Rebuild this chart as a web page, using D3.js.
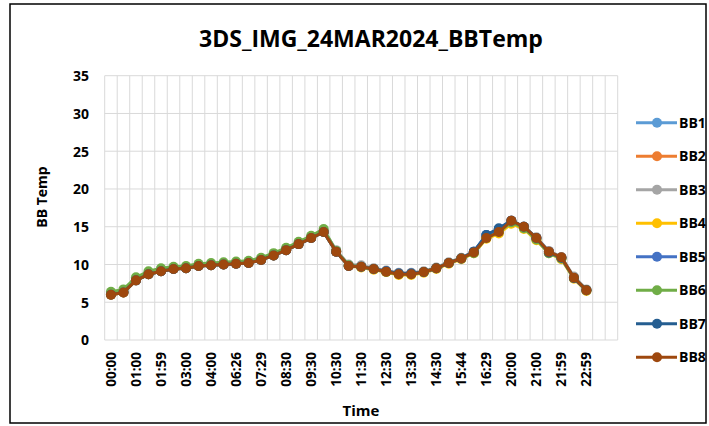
<!DOCTYPE html>
<html><head><meta charset="utf-8">
<script src="https://cdn.jsdelivr.net/npm/d3@7/dist/d3.min.js"></script>
<style>body{margin:0;background:#fff;}svg{display:block;}</style>
</head><body>
<svg id="c" width="709" height="426"></svg>
<script>
const title = "3DS_IMG_24MAR2024_BBTemp";
const categories = ["00:00","00:30","01:00","01:30","01:59","02:30","03:00","03:30","04:00","05:13",
"06:26","07:00","07:29","08:00","08:30","09:00","09:30","10:00","10:30","11:00",
"11:30","12:00","12:30","13:00","13:30","14:00","14:30","15:07","15:44","16:00",
"16:29","19:00","20:00","20:30","21:00","21:30","21:59","22:30","22:59","",""];
const shownLabels = ["00:00","01:00","01:59","03:00","04:00","06:26","07:29","08:30","09:30","10:30",
"11:30","12:30","13:30","14:30","15:44","16:29","20:00","21:00","21:59","22:59"];
const yTicks = [0,5,10,15,20,25,30,35];
const seriesNames = ["BB1","BB2","BB3","BB4","BB5","BB6","BB7","BB8"];
const seriesColors = ["#5B9BD5","#ED7D31","#A5A5A5","#FFC000","#4472C4","#70AD47","#255E91","#9E480E"];

const BB1 = [6.1,6.4,7.9,8.7,9.1,9.4,9.5,9.8,9.9,10.0,10.1,10.2,10.6,11.2,11.9,12.7,13.5,14.3,11.7,9.8,9.7,9.4,9.1,8.8,8.8,9.0,9.5,10.2,10.8,11.7,13.9,14.7,15.8,15.0,13.5,11.7,10.9,8.2,6.6];
const BB2 = [6.0,6.3,7.9,8.7,9.1,9.4,9.5,9.8,9.9,10.0,10.1,10.2,10.6,11.2,11.9,12.7,13.5,14.3,11.7,9.8,9.7,9.4,9.0,8.7,8.7,9.0,9.5,10.2,10.8,11.6,13.5,14.3,15.8,15.0,13.5,11.7,10.9,8.2,6.6];
const BB3 = [6.1,6.4,8.0,8.8,9.2,9.5,9.6,9.9,10.0,10.1,10.2,10.3,10.7,11.3,12.0,12.8,13.6,14.5,11.9,10.0,9.9,9.5,9.2,8.9,8.9,9.1,9.6,10.3,10.9,11.7,13.6,14.4,15.7,15.0,13.6,11.8,11.0,8.4,6.7];
const BB4 = [6.0,6.3,7.9,8.7,9.1,9.4,9.5,9.8,9.9,10.0,10.1,10.2,10.6,11.2,11.9,12.7,13.5,14.3,11.7,9.8,9.6,9.3,9.0,8.6,8.6,8.9,9.4,10.1,10.7,11.5,13.4,14.1,15.4,14.7,13.2,11.5,10.7,8.1,6.5];
const BB5 = [6.1,6.4,7.9,8.7,9.1,9.4,9.5,9.8,9.9,10.0,10.1,10.2,10.6,11.2,11.9,12.7,13.5,14.3,11.7,9.8,9.7,9.4,9.1,8.8,8.8,9.0,9.5,10.2,10.8,11.7,13.9,14.7,15.8,15.0,13.5,11.7,10.9,8.2,6.6];
const BB6 = [6.4,6.7,8.3,9.1,9.5,9.7,9.8,10.1,10.2,10.3,10.4,10.5,10.9,11.5,12.2,13.0,13.8,14.7,11.8,9.9,9.7,9.4,9.0,8.7,8.7,9.0,9.5,10.2,10.8,11.5,13.5,14.3,15.6,14.8,13.3,11.5,10.8,8.2,6.6];
const BB7 = [6.0,6.3,7.9,8.7,9.1,9.4,9.5,9.8,9.9,10.0,10.1,10.2,10.6,11.2,11.9,12.7,13.5,14.3,11.7,9.8,9.7,9.4,9.1,8.8,8.8,9.0,9.5,10.2,10.8,11.7,13.9,14.8,15.8,15.0,13.5,11.6,10.9,8.2,6.6];
const BB8 = [6.0,6.3,7.9,8.7,9.1,9.4,9.5,9.8,9.9,10.0,10.1,10.2,10.6,11.2,11.9,12.7,13.5,14.3,11.7,9.8,9.7,9.4,9.05,8.7,8.7,9.0,9.5,10.2,10.8,11.6,13.5,14.3,15.8,15.0,13.5,11.7,10.95,8.25,6.6];
const seriesValues = [BB1,BB2,BB3,BB4,BB5,BB6,BB7,BB8];

const svg = d3.select("#c");
const font = "'Open Sans', 'Liberation Sans', sans-serif";

svg.append("rect").attr("x",10).attr("y",4).attr("width",696).attr("height",419)
  .attr("fill","#fff").attr("stroke","#000").attr("stroke-width",1.5);

const L = 104.7, R = 617.7, T = 75.7, B = 340;
const x = d3.scaleBand().domain(d3.range(categories.length)).range([L,R]).paddingInner(0).paddingOuter(0);
const y = d3.scaleLinear().domain([0,35]).range([B,T]);

// gridlines
const g = svg.append("g");
g.selectAll(".hg").data(yTicks).enter().append("line")
  .attr("x1",L).attr("x2",R).attr("y1",d=>y(d)).attr("y2",d=>y(d))
  .attr("stroke","#D9D9D9").attr("stroke-width",1);
const vb = d3.range(categories.length+1);
g.selectAll(".vg").data(vb).enter().append("line")
  .attr("x1",d=>L+d*x.bandwidth()).attr("x2",d=>L+d*x.bandwidth())
  .attr("y1",T).attr("y2",B).attr("stroke","#D9D9D9").attr("stroke-width",1);

// y axis labels
const yAxis = d3.axisLeft(y).tickValues(yTicks).tickSize(0).tickPadding(0);
const ya = svg.append("g").attr("transform",`translate(89,0)`).call(yAxis);
ya.select(".domain").remove();
ya.selectAll("text").attr("font-family",font).attr("font-weight","bold").attr("font-size",14).attr("fill","#000").attr("dy","0.35em");

// x axis labels
const xAxis = d3.axisBottom(x).tickSize(0).tickFormat(i => (i%2===0 && shownLabels.includes(categories[i])) ? categories[i] : "");
const xa = svg.append("g").attr("transform",`translate(0,${B})`).call(xAxis);
xa.select(".domain").remove();
xa.selectAll("text").attr("font-family",font).attr("font-weight","bold").attr("font-size",13.5).attr("fill","#000")
  .attr("transform","rotate(-90)").attr("text-anchor","end").attr("x",-12).attr("y",0).attr("dy","0.35em");

// series
const line = d3.line().x((d,i)=>x(i)+x.bandwidth()/2).y(d=>y(d));
seriesValues.forEach((vals,si)=>{
  const sg = svg.append("g");
  sg.append("path").datum(vals).attr("d",line).attr("fill","none")
    .attr("stroke",seriesColors[si]).attr("stroke-width",3).attr("stroke-linejoin","round");
  sg.selectAll("circle").data(vals).enter().append("circle")
    .attr("cx",(d,i)=>x(i)+x.bandwidth()/2).attr("cy",d=>y(d)).attr("r",5)
    .attr("fill",seriesColors[si]);
});

// title
svg.append("text").attr("x",371).attr("y",47).attr("text-anchor","middle")
  .attr("font-family",font).attr("font-weight","bold").attr("font-size",23).text(title);

// axis titles
svg.append("text").attr("transform","translate(47,197) rotate(-90)").attr("text-anchor","middle")
  .attr("font-family",font).attr("font-weight","bold").attr("font-size",14).text("BB Temp");
svg.append("text").attr("x",361).attr("y",416).attr("text-anchor","middle")
  .attr("font-family",font).attr("font-weight","bold").attr("font-size",15).text("Time");

// legend
const leg = svg.append("g");
seriesNames.forEach((n,i)=>{
  const ly = 122.7 + i*33.5;
  leg.append("line").attr("x1",636).attr("x2",677).attr("y1",ly).attr("y2",ly)
    .attr("stroke",seriesColors[i]).attr("stroke-width",3);
  leg.append("circle").attr("cx",657).attr("cy",ly).attr("r",5).attr("fill",seriesColors[i]);
  leg.append("text").attr("x",679).attr("y",ly).attr("dy","0.35em")
    .attr("font-family",font).attr("font-weight","bold").attr("font-size",14).text(n);
});
</script>
</body></html>
